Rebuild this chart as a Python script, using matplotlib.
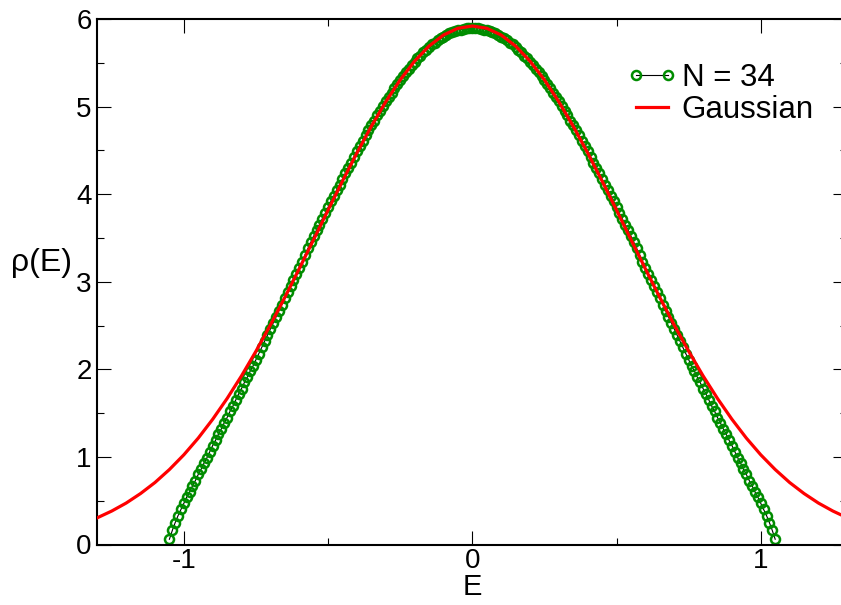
import numpy as np
import matplotlib
matplotlib.use('Agg')
import matplotlib.pyplot as plt

plt.rcParams['font.family'] = ['Liberation Sans', 'DejaVu Sans']

# density of states, N = 34 (E from -1.05 to 1.05, step 0.01)
E_34 = np.linspace(-1.05, 1.05, 211)
rho_34 = [0.06, 0.16, 0.25, 0.33, 0.40, 0.47,
          0.54, 0.60, 0.67, 0.73, 0.80, 0.86, 0.93, 0.99, 1.06, 1.13,
          1.19, 1.26, 1.32, 1.39, 1.45, 1.52, 1.58, 1.65, 1.72, 1.78,
          1.85, 1.91, 1.98, 2.04, 2.11, 2.18, 2.25, 2.32, 2.39, 2.46,
          2.53, 2.60, 2.67, 2.74, 2.81, 2.88, 2.95, 3.02, 3.09, 3.16,
          3.23, 3.31, 3.38, 3.45, 3.52, 3.59, 3.65, 3.72, 3.78, 3.85,
          3.92, 3.98, 4.05, 4.11, 4.17, 4.24, 4.30, 4.36, 4.43, 4.49,
          4.55, 4.61, 4.67, 4.73, 4.79, 4.84, 4.90, 4.95, 5.01, 5.06,
          5.11, 5.16, 5.21, 5.26, 5.30, 5.35, 5.39, 5.43, 5.47, 5.51,
          5.55, 5.58, 5.62, 5.65, 5.68, 5.71, 5.73, 5.76, 5.78, 5.80,
          5.82, 5.84, 5.85, 5.86, 5.88, 5.88, 5.89, 5.90, 5.90,
          5.90, 5.90, 5.90, 5.89, 5.88, 5.88, 5.86, 5.85, 5.84, 5.82,
          5.80, 5.78, 5.76, 5.73, 5.71, 5.68, 5.65, 5.62, 5.58, 5.55,
          5.51, 5.47, 5.43, 5.39, 5.35, 5.30, 5.26, 5.21, 5.16, 5.11,
          5.06, 5.01, 4.95, 4.90, 4.84, 4.79, 4.73, 4.67, 4.61, 4.55,
          4.49, 4.43, 4.36, 4.30, 4.24, 4.17, 4.11, 4.05, 3.98, 3.92,
          3.85, 3.78, 3.72, 3.65, 3.59, 3.52, 3.45, 3.38, 3.31, 3.23,
          3.16, 3.09, 3.02, 2.95, 2.88, 2.81, 2.74, 2.67, 2.60, 2.53,
          2.46, 2.39, 2.32, 2.25, 2.18, 2.11, 2.04, 1.98, 1.91, 1.85,
          1.78, 1.72, 1.65, 1.58, 1.52, 1.45, 1.39, 1.32, 1.26, 1.19,
          1.13, 1.06, 0.99, 0.93, 0.86, 0.80, 0.73, 0.67, 0.60, 0.54,
          0.47, 0.40, 0.33, 0.25, 0.16, 0.06]

# gaussian curve, read at steps of 0.05
E_gauss = np.linspace(-1.3, 1.3, 53)
rho_gauss = [0.305, 0.382, 0.473, 0.582, 0.708, 0.856, 1.024, 1.215, 1.430,
             1.667, 1.926, 2.207, 2.506, 2.821, 3.148, 3.482, 3.818, 4.150,
             4.471, 4.775, 5.055, 5.305, 5.519, 5.691, 5.817, 5.894,
             5.920,
             5.894, 5.817, 5.691, 5.519, 5.305, 5.055, 4.775, 4.471, 4.150,
             3.818, 3.482, 3.148, 2.821, 2.506, 2.207, 1.926, 1.667, 1.430,
             1.215, 1.024, 0.856, 0.708, 0.582, 0.473, 0.382, 0.305]

xticks = [-1, 0, 1]
yticks = [0, 1, 2, 3, 4, 5, 6]

fig = plt.figure(figsize=(8.41, 6.05), dpi=100)
# right spine sits just outside the picture, like the original
ax = fig.add_axes([97.3 / 841, 60.5 / 605, 750 / 841, 525.5 / 605])

green = '#008c00'
ax.plot(E_34, rho_34, color='black', lw=0.8, marker='o', ms=6.5,
        mfc='none', mec=green, mew=1.8, label='N = 34', zorder=2)
ax.plot(E_gauss, rho_gauss, color='red', lw=2.3, label='Gaussian', zorder=3)

ax.set_xlim(-1.3, 1.3)
ax.set_ylim(0, 6)
ax.set_xticks(xticks)
ax.set_xticklabels(['-1', '0', '1'])
ax.set_yticks(yticks)
ax.set_xticks([-0.5, 0.5], minor=True)
ax.set_yticks(np.arange(0.5, 6, 1.0), minor=True)

ax.tick_params(which='both', direction='in', top=True, right=True,
               labelsize=20, width=0.8, color='black')
ax.tick_params(which='major', length=10)
ax.tick_params(which='minor', length=5)
ax.tick_params(axis='x', pad=2.5)
ax.tick_params(axis='y', pad=4)
for s in ax.spines.values():
    s.set_linewidth(1.5)

ax.set_xlabel('E', fontsize=21)
ax.xaxis.set_label_coords(0.5, -0.054)
fig.text(11 / 841, 1 - 263 / 605, 'ρ(E)', fontsize=23, ha='left', va='center')

ax.legend(loc='upper left', bbox_to_anchor=(627 / 841, 1 - 63 / 605),
          bbox_transform=fig.transFigure, frameon=False, fontsize=22.5,
          numpoints=2, handlelength=1.6, handletextpad=0.15,
          labelspacing=0.05, borderpad=0, borderaxespad=0)

fig.savefig('out.png', dpi=100)
